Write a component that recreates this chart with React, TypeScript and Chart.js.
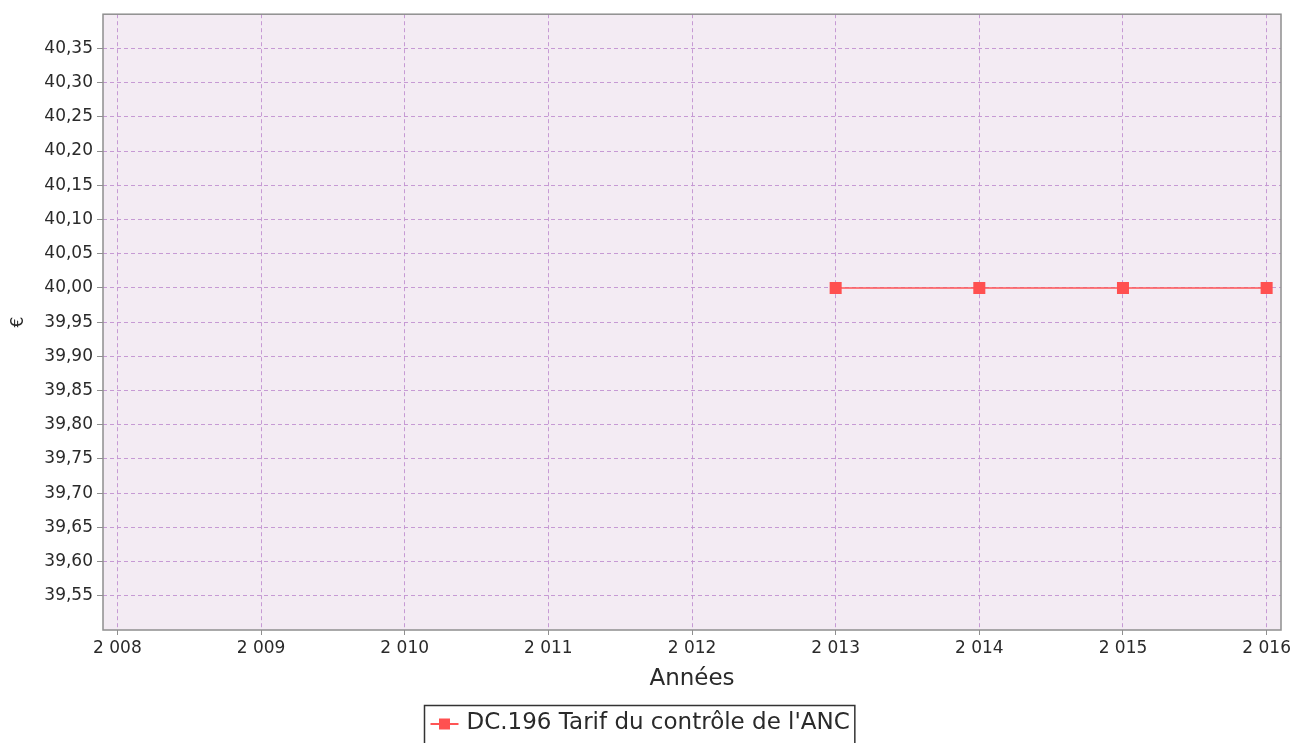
import { useEffect, useRef } from "react";
import { Chart, registerables } from "chart.js";

Chart.register(...registerables);

const years = [2013, 2014, 2015, 2016];
const values = [40.0, 40.0, 40.0, 40.0];
const seriesLabel = "DC.196 Tarif du contrôle de l'ANC";
const xTitle = "Années";
const yTitle = "€";
const xMin = 2007.9;
const xMax = 2016.1;
const xTickValues = [2008, 2009, 2010, 2011, 2012, 2013, 2014, 2015, 2016];
const yMin = 39.5;
const yMax = 40.4;
const yTickValues = [
  39.55, 39.6, 39.65, 39.7, 39.75, 39.8, 39.85, 39.9, 39.95, 40.0, 40.05, 40.1,
  40.15, 40.2, 40.25, 40.3, 40.35,
];

const FONT = "'DejaVu Sans', sans-serif";
const LINE_COLOR = "#ff5555";
const POINT_COLOR = "#ff5050";
const GRID_COLOR = "rgba(195,150,210,0.95)";
const PLOT_BG = "#f3ebf3";
const FRAME_COLOR = "#8f8f8f";
const TEXT_COLOR = "#2a2a2a";

const fmtYear = (v: number) => {
  const s = String(Math.round(v));
  return s.slice(0, s.length - 3) + " " + s.slice(-3);
};

const plotBg = {
  id: "plotBg",
  beforeDraw(chart: any) {
    const { ctx, chartArea: a } = chart;
    ctx.save();
    ctx.fillStyle = PLOT_BG;
    ctx.fillRect(a.left, a.top, a.right - a.left, a.bottom - a.top);
    ctx.restore();
  },
};

const frame = {
  id: "frame",
  beforeDatasetsDraw(chart: any) {
    const { ctx, chartArea: a } = chart;
    ctx.save();
    ctx.strokeStyle = FRAME_COLOR;
    ctx.lineWidth = 1.5;
    ctx.strokeRect(a.left, a.top, a.right - a.left, a.bottom - a.top);
    ctx.restore();
  },
};

const boxLegend = {
  id: "boxLegend",
  afterDraw(chart: any) {
    const { ctx } = chart;
    const ds = chart.data.datasets[0];
    ctx.save();
    ctx.font = `23px ${FONT}`;
    const tw = ctx.measureText(ds.label).width;
    const markerW = 28;
    const gap = 8;
    const padL = 6;
    const padR = 5;
    const boxW = padL + markerW + gap + tw + padR;
    const cx = 639;
    const left = Math.round(cx - boxW / 2) + 0.5;
    const top = 705.5;
    const boxH = 42;
    const cy = 723;
    ctx.fillStyle = "#ffffff";
    ctx.fillRect(left, top, boxW, boxH);
    ctx.strokeStyle = "#333333";
    ctx.lineWidth = 1.5;
    ctx.strokeRect(left, top, boxW, boxH);
    ctx.strokeStyle = ds.borderColor;
    ctx.lineWidth = 2;
    ctx.beginPath();
    ctx.moveTo(left + padL, cy + 1);
    ctx.lineTo(left + padL + markerW, cy + 1);
    ctx.stroke();
    ctx.fillStyle = ds.pointBackgroundColor;
    ctx.fillRect(left + padL + markerW / 2 - 5.5, cy + 1 - 5.5, 11, 11);
    ctx.fillStyle = TEXT_COLOR;
    ctx.textBaseline = "middle";
    ctx.textAlign = "left";
    ctx.fillText(ds.label, left + padL + markerW + gap, cy);
    ctx.restore();
  },
};

export default function App() {
  const ref = useRef<HTMLCanvasElement | null>(null);
  useEffect(() => {
    if (!ref.current) return;
    const chart = new Chart(ref.current, {
      type: "line",
      data: {
        datasets: [
          {
            label: seriesLabel,
            data: years.map((y, i) => ({ x: y, y: values[i] })),
            borderColor: LINE_COLOR,
            backgroundColor: POINT_COLOR,
            pointBackgroundColor: POINT_COLOR,
            pointBorderColor: POINT_COLOR,
            pointStyle: "rect",
            pointRadius: 8.5,
            pointBorderWidth: 0,
            borderWidth: 1.5,
            fill: false,
            tension: 0,
          },
        ],
      },
      options: {
        animation: false,
        responsive: false,
        maintainAspectRatio: false,
        devicePixelRatio: 1,
        layout: { padding: { top: 13, right: 14, bottom: 46, left: 0 } },
        plugins: {
          legend: { display: false },
          tooltip: { enabled: false },
        },
        scales: {
          x: {
            type: "linear",
            min: xMin,
            max: xMax,
            afterBuildTicks(scale: any) {
              scale.ticks = xTickValues.map((v) => ({ value: v }));
            },
            afterFit(scale: any) {
              scale.height = 67;
            },
            ticks: {
              autoSkip: false,
              maxRotation: 0,
              padding: 3,
              color: TEXT_COLOR,
              font: { family: FONT, size: 17 },
              callback: (v: any) => fmtYear(Number(v)),
            },
            grid: {
              color: GRID_COLOR,
              lineWidth: 1,
              tickLength: 5,
              tickColor: FRAME_COLOR,
              tickBorderDash: [],
            },
            border: { display: false, dash: [4, 3] },
            title: {
              display: true,
              text: xTitle,
              color: TEXT_COLOR,
              font: { family: FONT, size: 23 },
              padding: { top: 4, bottom: 4 },
            },
          },
          y: {
            type: "linear",
            min: yMin,
            max: yMax,
            afterBuildTicks(scale: any) {
              scale.ticks = yTickValues.map((v) => ({ value: v }));
            },
            afterFit(scale: any) {
              scale.width = 103;
            },
            ticks: {
              autoSkip: false,
              padding: 4,
              color: TEXT_COLOR,
              font: { family: FONT, size: 17 },
              callback: (v: any) => Number(v).toFixed(2).replace(".", ","),
            },
            grid: {
              color: GRID_COLOR,
              lineWidth: 1,
              tickLength: 6,
              tickColor: FRAME_COLOR,
              tickBorderDash: [],
            },
            border: { display: false, dash: [4, 3] },
            title: {
              display: true,
              text: yTitle,
              color: TEXT_COLOR,
              font: { family: FONT, size: 17 },
              padding: { top: 8, bottom: 8 },
            },
          },
        },
      },
      plugins: [plotBg, frame, boxLegend],
    });
    return () => chart.destroy();
  }, []);
  return (
    <div style={{ position: "fixed", left: 0, top: 0, width: 1295, height: 743, background: "#ffffff" }}>
      <canvas ref={ref} width={1295} height={743} style={{ width: 1295, height: 743, display: "block" }} />
    </div>
  );
}
